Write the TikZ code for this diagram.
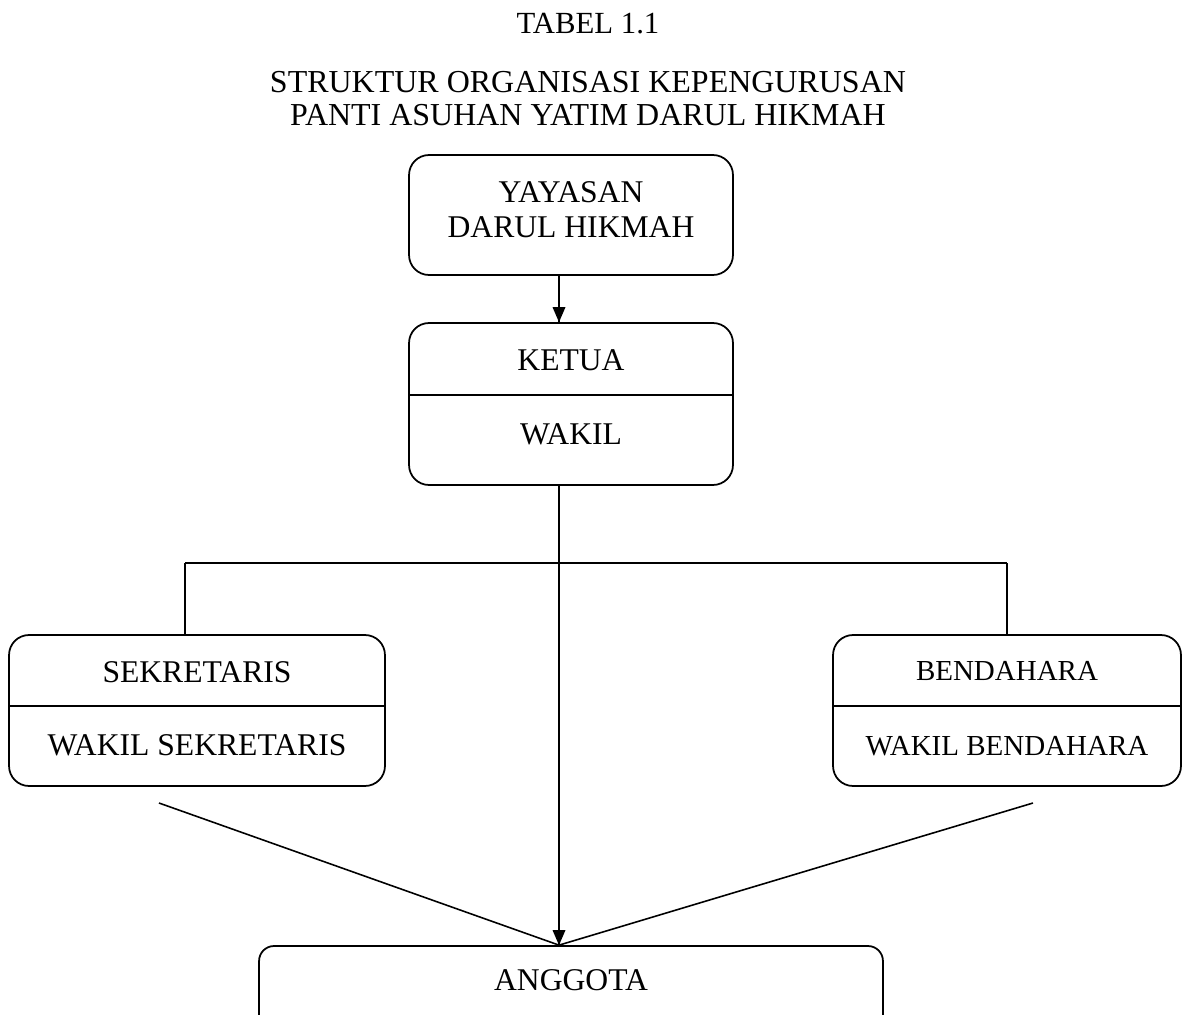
\documentclass[tikz,border=0pt]{standalone}
\usepackage{fontspec}
\setmainfont{Liberation Serif}
\begin{document}
\begin{tikzpicture}[x=0.02cm, y=0.02cm]
\tikzstyle{every node}+=[inner sep=0pt]
\tikzstyle{box}=[draw, line width=1pt, rounded corners=0.4cm]
\tikzstyle{lbl}=[anchor=base, font=\fontsize{18}{22}\selectfont]
\tikzstyle{smalllbl}=[anchor=base, font=\fontsize{16.5}{20}\selectfont]
\tikzstyle{ttl}=[anchor=base, font=\fontsize{17.5}{21}\selectfont]
\tikzstyle{bigttl}=[anchor=base, font=\fontsize{18.2}{21}\selectfont]
\tikzstyle{link}=[line width=0.9pt]
\clip (0,0) rectangle (1183,-1014);
\draw (588,-33) node[ttl] (tabel) {TABEL 1.1};
\draw (588,-92) node[bigttl] (judul1) {STRUKTUR ORGANISASI KEPENGURUSAN};
\draw (588,-125) node[bigttl] (judul2) {PANTI ASUHAN YATIM DARUL HIKMAH};
\node[box, minimum width=6.48cm, minimum height=2.4cm] (yayasan) at (571,-215) {};
\draw (571,-202) node[lbl] (yayasan1) {YAYASAN};
\draw (571,-237) node[lbl] (yayasan2) {DARUL HIKMAH};
\node[box, minimum width=6.48cm, minimum height=3.24cm] (ketua) at (571,-404) {};
\draw [link] (ketua.west |- 0,-395) -- (ketua.east |- 0,-395);
\draw (571,-370) node[lbl] (ketuatxt) {KETUA};
\draw (571,-444) node[lbl] (wakiltxt) {WAKIL};
\node[box, minimum width=7.52cm, minimum height=3.02cm] (sekretaris) at (197,-710.5) {};
\draw [link] (sekretaris.west |- 0,-706) -- (sekretaris.east |- 0,-706);
\draw (197,-682) node[lbl] (sekretaristxt) {SEKRETARIS};
\draw (197,-755) node[lbl] (wakilsektxt) {WAKIL SEKRETARIS};
\node[box, minimum width=6.96cm, minimum height=3.02cm] (bendahara) at (1007,-710.5) {};
\draw [link] (bendahara.west |- 0,-706) -- (bendahara.east |- 0,-706);
\draw (1007,-680) node[smalllbl] (bendaharatxt) {BENDAHARA};
\draw (1007,-755) node[smalllbl] (wakilbentxt) {WAKIL BENDAHARA};
\node[box, rounded corners=0.3cm, minimum width=12.48cm, minimum height=2cm] (anggota) at (571,-996) {};
\draw (571,-990) node[lbl] (anggotatxt) {ANGGOTA};
\coordinate (spine) at (559,0);
\coordinate (lbranch) at (185,-563);
\coordinate (rbranch) at (1007,-563);
\coordinate (sfoot) at (159,-803);
\coordinate (bfoot) at (1033,-803);
\draw [link] (yayasan.south -| spine) -- (ketua.north -| spine);
\fill (ketua.north -| spine) -- ++(-6.5,15) -- ++(13,0) -- cycle;
\draw [link] (ketua.south -| spine) -- (anggota.north -| spine);
\fill (anggota.north -| spine) -- ++(-6.5,15) -- ++(13,0) -- cycle;
\draw [link] (lbranch) -- (rbranch);
\draw [link] (lbranch) -- (lbranch |- sekretaris.north);
\draw [link] (rbranch) -- (rbranch |- bendahara.north);
\draw [link] (sfoot) -- (anggota.north -| spine);
\draw [link] (bfoot) -- (anggota.north -| spine);
\end{tikzpicture}
\end{document}
